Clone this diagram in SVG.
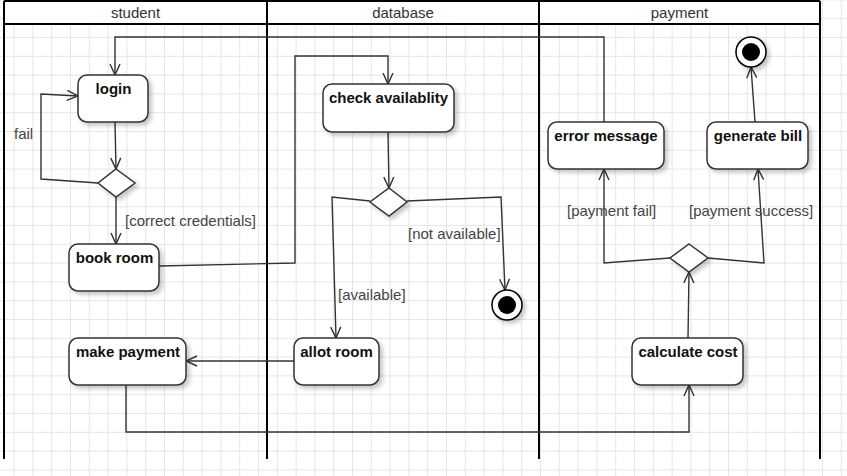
<svg xmlns="http://www.w3.org/2000/svg" width="847" height="476" viewBox="0 0 847 476">
<defs>
<pattern id="grid" patternUnits="userSpaceOnUse" x="13.6" y="18.2" width="18.8" height="18.8">
<path d="M0,0.5 H18.8 M0.5,0 V18.8" fill="none" stroke="#e6e6e6" stroke-width="1"/>
</pattern>
<filter id="sh" x="-20%" y="-20%" width="150%" height="150%">
<feDropShadow dx="3" dy="3" stdDeviation="2" flood-color="#000" flood-opacity="0.22"/>
</filter>
<marker id="arr" markerUnits="userSpaceOnUse" markerWidth="14" markerHeight="14" viewBox="0 0 14 14" refX="12" refY="7" orient="auto">
<path d="M1,2 L12,7 L1,12" fill="none" stroke="#333" stroke-width="1.4"/>
</marker>
<style>
.lane{fill:none;stroke:#000;stroke-width:2}
.hdr{font-family:"Liberation Sans",Arial,sans-serif;font-size:15px;fill:#333;text-anchor:middle}
.node{fill:#fff;stroke:#333;stroke-width:1.5;filter:url(#sh)}
.nt{font-family:"Liberation Sans",Arial,sans-serif;font-size:15px;font-weight:bold;fill:#111;text-anchor:middle}
.el{font-family:"Liberation Sans",Arial,sans-serif;font-size:15px;fill:#444}
.edge{fill:none;stroke:#333;stroke-width:1.4;marker-end:url(#arr)}
</style>
</defs>
<rect width="847" height="476" fill="#fff"/>
<rect width="847" height="476" fill="url(#grid)"/>
<g id="lanes">
<rect x="4" y="1" width="816" height="23" fill="#fff" stroke="none"/>
<path class="lane" d="M4,1 H820 M4,24 H820 M4,1 V459 M267,1 V459 M539,1 V459 M820,1 V459"/>
<text class="hdr" x="135.5" y="17.5">student</text>
<text class="hdr" x="403" y="17.5">database</text>
<text class="hdr" x="679.5" y="17.5">payment</text>
</g>
<g id="connectors">
<polyline class="edge" points="604,122 604,37 115,37 115,75"/>
<polyline class="edge" points="115,122 116,169"/>
<polyline class="edge" points="98,183 41,179 41,94 78,96"/>
<polyline class="edge" points="116,197 116,244"/>
<polyline class="edge" points="159,266 295,263 295,56 388,56 388,84"/>
<polyline class="edge" points="388,132 389,188"/>
<polyline class="edge" points="370,201 332,197 336,338"/>
<polyline class="edge" points="407,201 501,197 505,290"/>
<polyline class="edge" points="294,361 186,361"/>
<polyline class="edge" points="126,385 126,432 689,432 689,385"/>
<polyline class="edge" points="688,338 689,272"/>
<polyline class="edge" points="670,258 604,263 604,169"/>
<polyline class="edge" points="708,258 764,263 758,169"/>
<polyline class="edge" points="755,122 751,67"/>
<text class="el" x="14" y="139">fail</text>
<text class="el" x="125" y="226">[correct credentials]</text>
<text class="el" x="338" y="300">[available]</text>
<text class="el" x="408" y="239">[not available]</text>
<text class="el" x="567" y="216">[payment fail]</text>
<text class="el" x="689" y="216">[payment success]</text>
</g>
<g id="login"><rect class="node" x="78" y="75" width="70" height="47" rx="9"/><text class="nt" x="113.5" y="94">login</text></g>
<g id="decision1"><polygon class="node" points="116,169 135,183 116,197 98,183"/></g>
<g id="book-room"><rect class="node" x="69" y="244" width="90" height="47" rx="9"/><text class="nt" x="114.5" y="263">book room</text></g>
<g id="make-payment"><rect class="node" x="69" y="338" width="117" height="47" rx="9"/><text class="nt" x="128" y="357">make payment</text></g>
<g id="check-availablity"><rect class="node" x="323" y="84" width="131" height="48" rx="9"/><text class="nt" x="388.5" y="103">check availablity</text></g>
<g id="decision2"><polygon class="node" points="389,188 407,202 389,216 370,202"/></g>
<g id="end1"><circle cx="507" cy="305" r="15" fill="#fff" stroke="#000" stroke-width="1.5" filter="url(#sh)"/><circle cx="507" cy="305" r="9" fill="#000"/></g>
<g id="allot-room"><rect class="node" x="294" y="338" width="85" height="47" rx="9"/><text class="nt" x="336.5" y="357">allot room</text></g>
<g id="error-message"><rect class="node" x="548" y="122" width="116" height="47" rx="9"/><text class="nt" x="606" y="141">error message</text></g>
<g id="generate-bill"><rect class="node" x="707" y="122" width="101" height="47" rx="9"/><text class="nt" x="758" y="141">generate bill</text></g>
<g id="end2"><circle cx="751" cy="52" r="15" fill="#fff" stroke="#000" stroke-width="1.5" filter="url(#sh)"/><circle cx="751" cy="52" r="9" fill="#000"/></g>
<g id="decision3"><polygon class="node" points="689,244 708,258 689,272 670,258"/></g>
<g id="calculate-cost"><rect class="node" x="632" y="338" width="111" height="47" rx="9"/><text class="nt" x="688" y="357">calculate cost</text></g>
</svg>
